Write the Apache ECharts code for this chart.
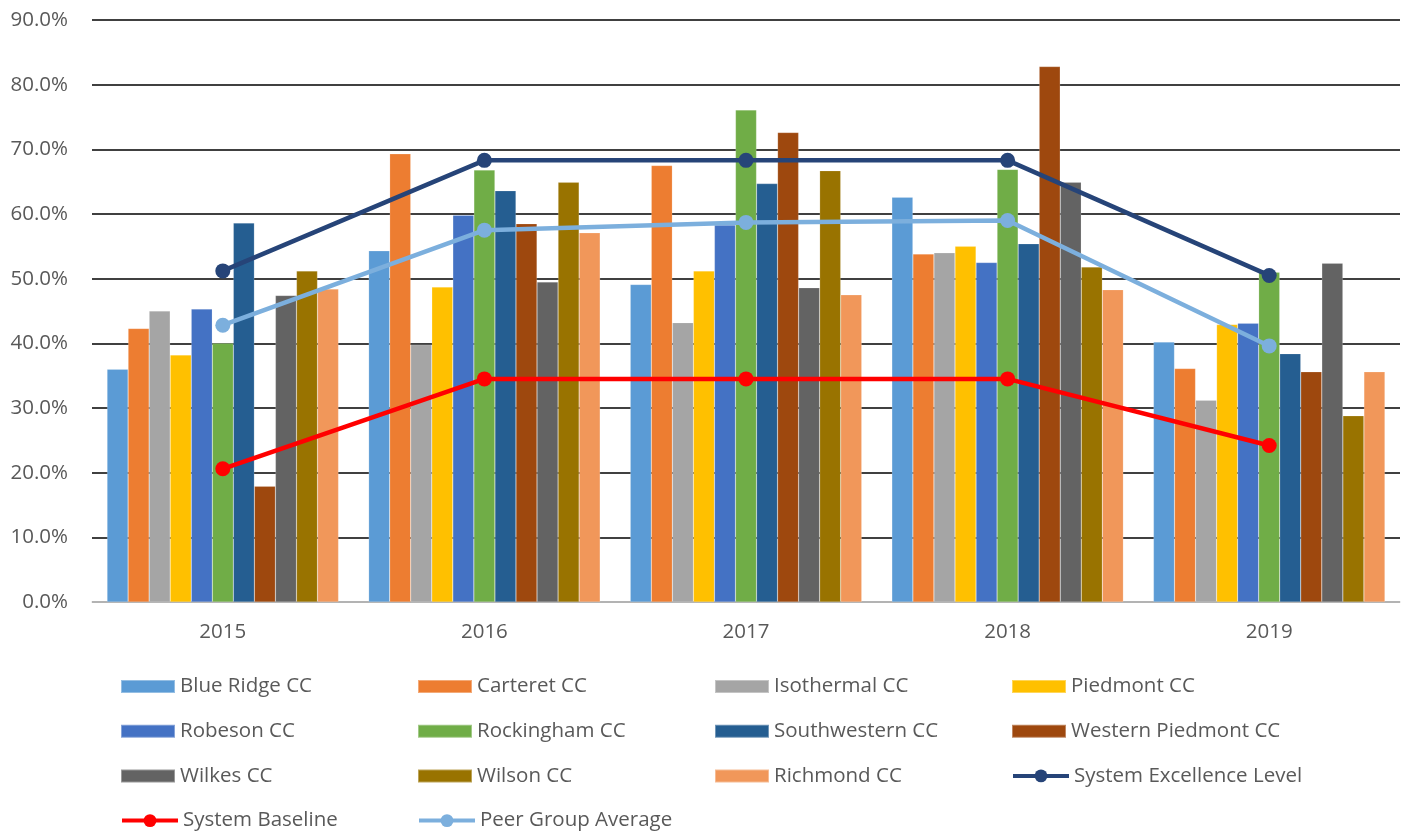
<!DOCTYPE html>
<html>
<head>
<meta charset="utf-8">
<script src="https://cdn.jsdelivr.net/npm/echarts@6/dist/echarts.min.js"></script>
<style>html,body{margin:0;padding:0;background:#fff}#c{width:1404px;height:837px}</style>
</head>
<body>
<div id="c"></div>
<script>
const years = ['2015','2016','2017','2018','2019'];
const barNames = ['Blue Ridge CC','Carteret CC','Isothermal CC','Piedmont CC','Robeson CC','Rockingham CC','Southwestern CC','Western Piedmont CC','Wilkes CC','Wilson CC','Richmond CC'];
const blueRidge = [36.0, 54.3, 49.1, 62.6, 40.2];
const carteret = [42.3, 69.3, 67.5, 53.8, 36.1];
const isothermal = [45.0, 39.8, 43.2, 54.0, 31.2];
const piedmont = [38.2, 48.7, 51.2, 55.0, 42.9];
const robeson = [45.3, 59.8, 58.3, 52.5, 43.1];
const rockingham = [40.0, 66.8, 76.1, 66.9, 51.0];
const southwestern = [58.6, 63.6, 64.7, 55.4, 38.4];
const westernPiedmont = [17.9, 58.5, 72.6, 82.8, 35.6];
const wilkes = [47.4, 49.5, 48.6, 64.9, 52.4];
const wilson = [51.2, 64.9, 66.7, 51.8, 28.8];
const richmond = [48.4, 57.1, 47.5, 48.3, 35.6];
const excellence = [51.2, 68.3, 68.3, 68.3, 50.5];
const baseline = [20.6, 34.5, 34.5, 34.5, 24.2];
const peerAvg = [42.8, 57.5, 58.7, 59.0, 39.6];
const lineNames = ['System Excellence Level','System Baseline','Peer Group Average'];
const yTicks = [0,10,20,30,40,50,60,70,80,90];

const barData = [blueRidge,carteret,isothermal,piedmont,robeson,rockingham,southwestern,westernPiedmont,wilkes,wilson,richmond];
const barColors = ['#5B9BD5','#ED7D31','#A5A5A5','#FFC000','#4472C4','#70AD47','#255E91','#9E480E','#636363','#997300','#F1975A'];
const lineData = [excellence, baseline, peerAvg];
const lineColors = ['#264478','#FF0000','#7CAFDD'];

const FONT = '"Open Sans", sans-serif';
const FS = 20.5;
const series = [];
barData.forEach((d,i)=>{
  series.push({name:barNames[i], type:'bar', data:d, barGap:'0%', barCategoryGap:'11.5%',
    itemStyle:{color:barColors[i], borderColor:'rgba(255,255,255,0.35)', borderWidth:0.5}, z:2});
});
lineData.forEach((d,i)=>{
  series.push({name:lineNames[i], type:'line', data:d, symbol:'circle', symbolSize:15,
    lineStyle:{color:lineColors[i], width:4.5}, itemStyle:{color:lineColors[i]}, z:5});
});

const allNames = barNames.concat(lineNames);
const legends = allNames.map((n,i)=>{
  const col = i%4, row = Math.floor(i/4);
  const isLine = i >= 11;
  const lg = {data:[n], left:120 + col*297, top:676 + row*44.7, padding:0,
    itemWidth:isLine?56:54, itemHeight:isLine?16:13, itemGap:0,
    textStyle:{fontFamily:FONT, fontSize:FS, color:'#595959', lineHeight:20}};
  if (!isLine) lg.icon = 'rect';
  else lg.lineStyle = {width:4};
  return lg;
});

const chart = echarts.init(document.getElementById('c'), null, {renderer:'canvas'});
chart.setOption({
  animation:false,
  backgroundColor:'#fff',
  grid:{left:92, right:4, top:20, bottom:235, containLabel:false},
  legend: legends,
  xAxis:{type:'category', data:years,
    axisLine:{lineStyle:{color:'#D9D9D9', width:1.5}}, axisTick:{show:false},
    axisLabel:{fontFamily:FONT, fontSize:FS, color:'#595959', margin:20}},
  yAxis:{type:'value', min:yTicks[0], max:yTicks[yTicks.length-1], interval:10,
    axisLine:{show:false}, axisTick:{show:false},
    splitLine:{lineStyle:{color:'#000', width:1.5}},
    axisLabel:{fontFamily:FONT, fontSize:FS, color:'#595959', margin:24, formatter:v=>v.toFixed(1)+'%'}},
  series: series
});
</script>
</body>
</html>
